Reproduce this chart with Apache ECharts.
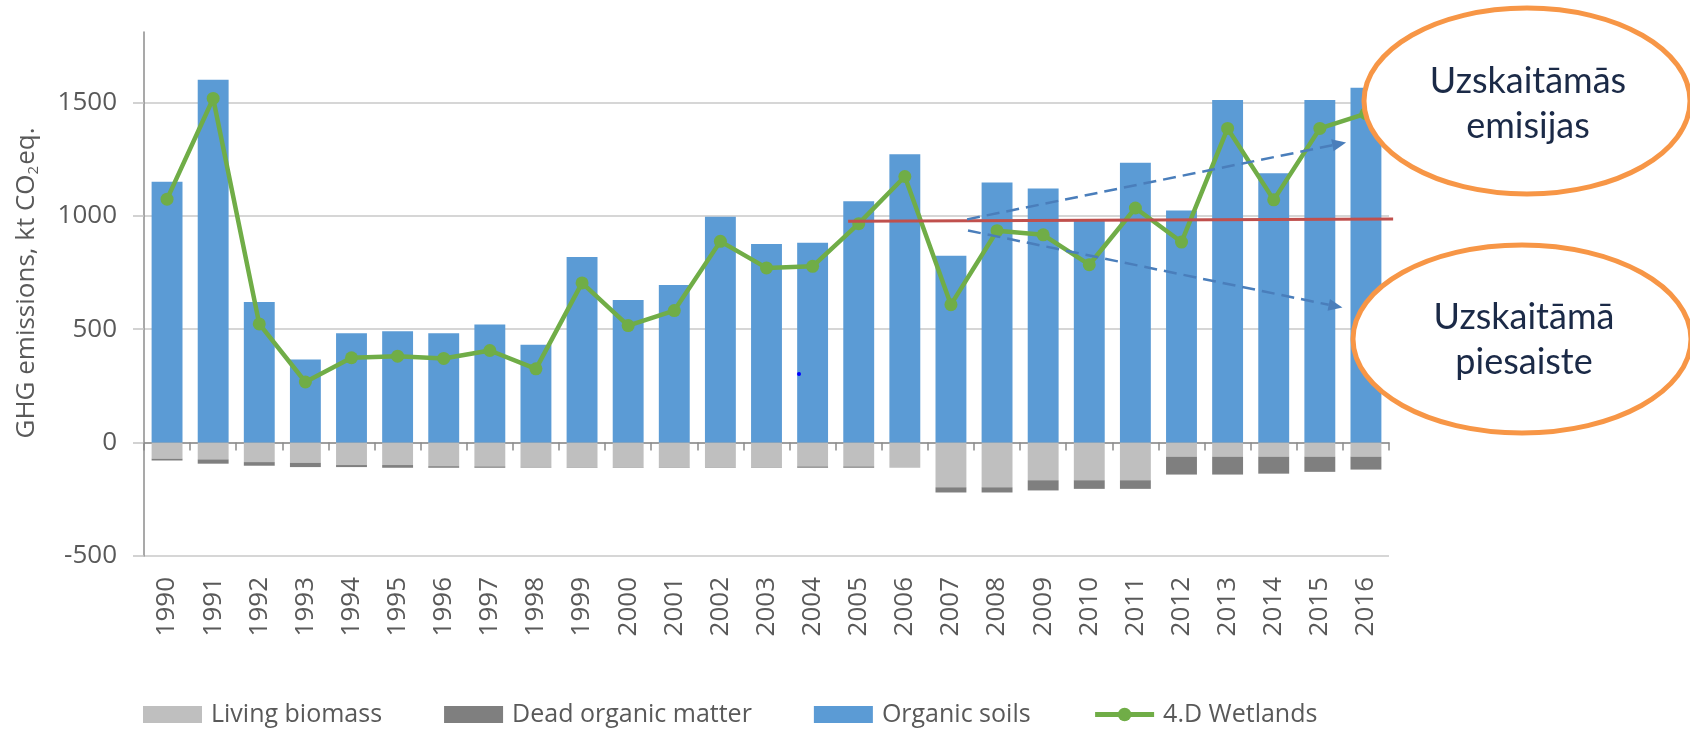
<!DOCTYPE html>
<html>
<head>
<meta charset="utf-8">
<script src="https://cdn.jsdelivr.net/npm/echarts@6/dist/echarts.min.js"></script>
<style>
  html, body { margin: 0; padding: 0; background: #fff; }
  #main { width: 1690px; height: 731px; }
</style>
</head>
<body>
<div id="main"></div>
<script>
// data (kt CO2 eq.)
var years = ['1990', '1991', '1992', '1993', '1994', '1995', '1996', '1997', '1998', '1999',
  '2000', '2001', '2002', '2003', '2004', '2005', '2006', '2007', '2008', '2009',
  '2010', '2011', '2012', '2013', '2014', '2015', '2016'];
var livingBiomass = [-71, -74, -86, -89, -99, -99, -104, -105, -107, -109, -109, -109, -109, -109,
  -105, -105, -111, -197, -197, -166, -166, -166, -62, -62, -62, -62, -62];
var deadOrganicMatter = [-8, -19, -16, -19, -9, -12, -7, -6, -3, -2, -2, -2, -2, -2,
  -6, -6, 0, -23, -23, -45, -38, -38, -79, -79, -75, -67, -57];
var organicSoils = [1150, 1600, 620, 366, 482, 491, 482, 520, 431, 818, 629, 695, 995, 875,
  881, 1064, 1271, 824, 1146, 1120, 982, 1234, 1023, 1510, 1187, 1510, 1564];
var wetlands = [1073, 1517, 523, 267, 374, 381, 371, 406, 325, 704, 516, 582, 887, 770,
  777, 965, 1173, 608, 934, 916, 784, 1034, 884, 1385, 1070, 1385, 1450];
var yTicks = [-500, 0, 500, 1000, 1500];

// annotation anchors: [category index (fractional), value]
var redLine = [[14.77, 976], [26.59, 986]];
var upArrow = [[17.35, 984], [25.57, 1323]];
var downArrow = [[17.37, 935], [25.49, 595]];

var chart = echarts.init(document.getElementById('main'));
var font = 'Open Sans';
var txt = '#595959';

var option = {
  backgroundColor: '#ffffff',
  animation: false,
  grid: { left: 144, right: 301, top: 32, bottom: 175 },
  legend: {
    left: 138,
    top: 697,
    itemWidth: 59,
    itemHeight: 17,
    itemGap: 62,
    textStyle: { fontFamily: font, fontSize: 25, color: txt, padding: [0, 0, 0, 4] },
    data: [
      { name: 'Living biomass', icon: 'rect' },
      { name: 'Dead organic matter', icon: 'rect' },
      { name: 'Organic soils', icon: 'rect' },
      { name: '4.D Wetlands', lineStyle: { width: 5 } }
    ]
  },
  xAxis: [{
    type: 'category',
    data: years,
    position: 'bottom',
    axisLine: { onZero: true, lineStyle: { color: '#8c8c8c', width: 1.5 } },
    axisTick: { show: true, length: 8, interval: 0, lineStyle: { color: '#8c8c8c', width: 1.5 } },
    axisLabel: { show: false }
  }, {
    type: 'category',
    data: years,
    position: 'bottom',
    axisLine: { show: false, onZero: false },
    axisTick: { show: false },
    axisLabel: {
      interval: 0, rotate: 90, margin: 21,
      fontFamily: font, fontSize: 26, color: txt
    }
  }],
  yAxis: {
    type: 'value',
    min: -500,
    max: 1810,
    interval: 500,
    axisLine: { show: true, lineStyle: { color: '#8c8c8c', width: 1.5 } },
    axisTick: { show: true, length: 11, lineStyle: { color: '#c4c4c4', width: 1.5 } },
    axisLabel: {
      margin: 27, fontFamily: font, fontSize: 26, color: txt, showMaxLabel: false,
      formatter: function (v) { return yTicks.indexOf(v) >= 0 ? String(v) : ''; }
    },
    splitLine: { show: true, showMaxLine: false, lineStyle: { color: '#c9c9c9', width: 1.5 } }
  },
  series: [{
    name: 'Living biomass',
    type: 'bar',
    stack: 'ghg',
    barCategoryGap: '33%',
    itemStyle: { color: '#bfbfbf' },
    data: livingBiomass
  }, {
    name: 'Dead organic matter',
    type: 'bar',
    stack: 'ghg',
    itemStyle: { color: '#7f7f7f' },
    data: deadOrganicMatter
  }, {
    name: 'Organic soils',
    type: 'bar',
    stack: 'ghg',
    itemStyle: { color: '#5b9bd5' },
    data: organicSoils
  }, {
    name: '4.D Wetlands',
    type: 'line',
    symbol: 'circle',
    symbolSize: 13,
    lineStyle: { color: '#70ad47', width: 4.5 },
    itemStyle: { color: '#70ad47' },
    data: wetlands,
    z: 5
  }]
};
chart.setOption(option);

// convert fractional category index + value to pixels
var x0 = chart.convertToPixel({ xAxisIndex: 0 }, 0);
var x1 = chart.convertToPixel({ xAxisIndex: 0 }, 1);
function toPx(p) {
  return [x0 + p[0] * (x1 - x0), chart.convertToPixel({ yAxisIndex: 0 }, p[1])];
}

function arrow(a, b) {
  var p0 = toPx(a), p1 = toPx(b);
  var ang = Math.atan2(p1[1] - p0[1], p1[0] - p0[0]);
  var c = Math.cos(ang), s = Math.sin(ang);
  var L = 14, W = 6;
  var base = [p1[0] - L * c, p1[1] - L * s];
  return [{
    type: 'line', z: 20,
    shape: { x1: p0[0], y1: p0[1], x2: base[0], y2: base[1] },
    style: { stroke: '#4a7ebb', lineWidth: 2.5, lineDash: [13, 7] }
  }, {
    type: 'polygon', z: 20,
    shape: { points: [p1, [base[0] - W * s, base[1] + W * c], [base[0] + W * s, base[1] - W * c]] },
    style: { fill: '#4a7ebb' }
  }];
}

var r0 = toPx(redLine[0]), r1 = toPx(redLine[1]);
var calloutText = { fontFamily: 'Lato', fontSize: 36, fill: '#1b2a47', textAlign: 'center', textVerticalAlign: 'middle', lineHeight: 45 };

var graphics = [{
  type: 'line', z: 20,
  shape: { x1: r0[0], y1: r0[1], x2: r1[0], y2: r1[1] },
  style: { stroke: '#c0504d', lineWidth: 3 }
}].concat(arrow(upArrow[0], upArrow[1]), arrow(downArrow[0], downArrow[1]), [{
  type: 'ellipse', z: 30,
  shape: { cx: 1527, cy: 101, rx: 163, ry: 93 },
  style: { fill: '#ffffff', stroke: '#f79646', lineWidth: 5 }
}, {
  type: 'text', z: 31, x: 1528, y: 104,
  style: Object.assign({ text: 'Uzskaitāmās\nemisijas' }, calloutText)
}, {
  type: 'ellipse', z: 30,
  shape: { cx: 1522, cy: 339, rx: 169, ry: 94 },
  style: { fill: '#ffffff', stroke: '#f79646', lineWidth: 5 }
}, {
  type: 'text', z: 31, x: 1524, y: 340,
  style: Object.assign({ text: 'Uzskaitāmā\npiesaiste' }, calloutText)
}, {
  type: 'text', z: 10, x: 27, y: 283, rotation: Math.PI / 2,
  style: {
    text: '{t|GHG emissions, kt CO}{s|2}{t|eq.}',
    textAlign: 'center', textVerticalAlign: 'middle',
    rich: {
      t: { fontFamily: font, fontSize: 26, fill: txt },
      s: { fontFamily: font, fontSize: 15, fill: txt, padding: [13, 1, 0, 0] }
    }
  }
}, {
  type: 'circle', z: 10,
  shape: { cx: 799, cy: 374, r: 2 },
  style: { fill: '#0000ff' }
}]);

chart.setOption({ graphic: graphics });
</script>
</body>
</html>
